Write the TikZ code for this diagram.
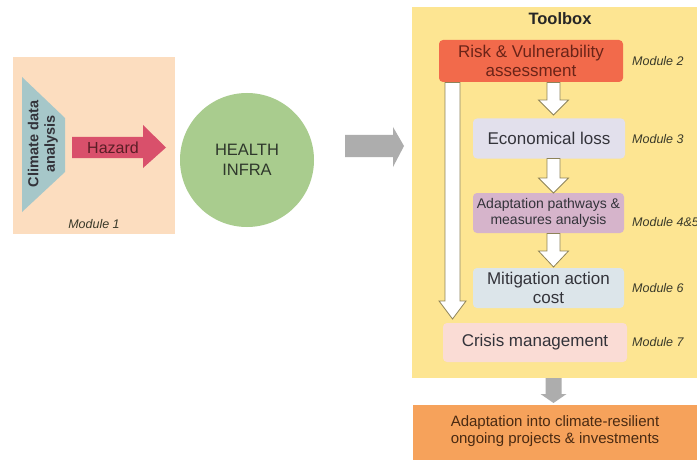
\documentclass[tikz,border=0pt]{standalone}
\usepackage{fontspec}
\setmainfont{Liberation Sans}
\usetikzlibrary{calc}
\definecolor{peach}{HTML}{FCDDBF}
\definecolor{trap}{HTML}{A6C7C9}
\definecolor{hazard}{HTML}{D9506B}
\definecolor{hazardtxt}{HTML}{5A1E26}
\definecolor{green1}{HTML}{A9CC8E}
\definecolor{greytxt}{HTML}{2F382C}
\definecolor{arrgrey}{HTML}{ADADAD}
\definecolor{tbyellow}{HTML}{FDE592}
\definecolor{risk}{HTML}{F26A4B}
\definecolor{risktxt}{HTML}{6B2418}
\definecolor{econ}{HTML}{E2E0EC}
\definecolor{adapt}{HTML}{D6B4CB}
\definecolor{mitig}{HTML}{DCE5EA}
\definecolor{crisis}{HTML}{FADCD5}
\definecolor{outorange}{HTML}{F6A25B}
\definecolor{outtxt}{HTML}{4A2A12}
\definecolor{arrline}{HTML}{8E8358}
\definecolor{dtxt}{HTML}{33333A}
\definecolor{modtxt}{HTML}{3A3A2A}
\tikzset{
  modbox/.style={rounded corners=4pt, inner sep=0pt, align=center, text=dtxt},
  modlabel/.style={anchor=west, inner sep=0pt, font=\itshape\fontsize{12.5}{14}\selectfont, text=modtxt},
  fatdown/.style={fill=white, draw=arrline, line width=0.8pt},
}
% fat down arrow: x-center, top y, tip y, half shaft, half head, head length
\newcommand\fatdownarrow[7][fatdown]{%
  \path[#1] (#2-#5,#3) -- (#2+#5,#3) -- (#2+#5,#4-#7) -- (#2+#6,#4-#7) -- (#2,#4)
    -- (#2-#6,#4-#7) -- (#2-#5,#4-#7) -- cycle;}
\begin{document}
\begin{tikzpicture}[x=1pt,y=-1pt]
\useasboundingbox (0,0) rectangle (697,460);
\fill[white] (0,0) rectangle (697,460);

% Module 1
\node[fill=peach, minimum width=162pt, minimum height=177pt, inner sep=0pt, anchor=north west] (m1) at (13,57) {};
\fill[trap] (22,77) -- (65,118) -- (65,172) -- (22,212) -- cycle;
\node[rotate=90, align=center, font=\bfseries\fontsize{14.5}{16.5}\selectfont, text=dtxt] (climate) at (43,144) {Climate data\\analysis};
\fill[hazard] (72,137) -- (143,137) -- (143,125) -- (166,147.5) -- (143,168) -- (143,158) -- (72,158) -- cycle;
\node[font=\fontsize{16}{18}\selectfont, text=hazardtxt] (hazard) at (113,148) {Hazard};
\node[font=\itshape\fontsize{12.5}{14}\selectfont, text=modtxt] (mod1) at (94,224) {Module 1};

% Health infra
\node[circle, fill=green1, minimum size=134pt, inner sep=0pt, align=center, text=greytxt, font=\fontsize{16.5}{20}\selectfont] (health) at (247,160) {HEALTH\\INFRA};

% Grey arrow
\fill[arrgrey] (345,135) -- (393,135) -- (393,127) -- (404,146) -- (393,167) -- (393,157) -- (345,157) -- cycle;

% Toolbox
\node[fill=tbyellow, minimum width=290pt, minimum height=371pt, inner sep=0pt, anchor=north west] (toolbox) at (412,7) {};
\node[font=\bfseries\fontsize{16.5}{18}\selectfont, text=black!85] (tbtitle) at (560,19) {Toolbox};

\node[modbox, fill=risk, text=risktxt, minimum width=184pt, minimum height=42pt, font=\fontsize{17}{19}\selectfont] (risk) at (531,61) {Risk \& Vulnerability\\assessment};
\node[modbox, fill=econ, minimum width=152pt, minimum height=40pt, font=\fontsize{17}{19}\selectfont] (econ) at (549,138.5) {Economical loss};
\node[modbox, fill=adapt, minimum width=151pt, minimum height=40pt, font=\fontsize{14}{16}\selectfont] (adapt) at (548.5,213) {Adaptation pathways \&\\measures analysis};
\node[modbox, fill=mitig, minimum width=151pt, minimum height=40pt, font=\fontsize{17}{19}\selectfont] (mitig) at (548.5,288) {Mitigation action\\cost};
\node[modbox, fill=crisis, minimum width=184pt, minimum height=39pt, font=\fontsize{17}{19}\selectfont] (crisis) at (535,342.5) {Crisis management};

\node[modlabel] (mod2) at (632,61) {Module 2};
\node[modlabel] (mod3) at (632,139) {Module 3};
\node[modlabel] (mod45) at (632,222) {Module 4\&5};
\node[modlabel] (mod6) at (632,288) {Module 6};
\node[modlabel] (mod7) at (632,342) {Module 7};

% white fat arrows
\fatdownarrow{553.5}{82.5}{115}{6.5}{15}{15}
\fatdownarrow{553.5}{158.5}{193}{6.5}{15}{15}
\fatdownarrow{553.5}{233.5}{267}{6.5}{15}{16}
\fatdownarrow{452.5}{82.5}{319}{7.5}{13.5}{18}

% grey small arrow
\fatdownarrow[fill=arrgrey]{553.5}{378}{403}{8}{13}{9}

% Output box
\node[fill=outorange, minimum width=290pt, minimum height=56pt, inner sep=0pt, anchor=north west] (output) at (413,405) {};
\node[align=center, text=outtxt, font=\fontsize{15}{17}\selectfont] (outtext) at (555,431) {Adaptation into climate-resilient\\ongoing projects \& investments};
\end{tikzpicture}
\end{document}
